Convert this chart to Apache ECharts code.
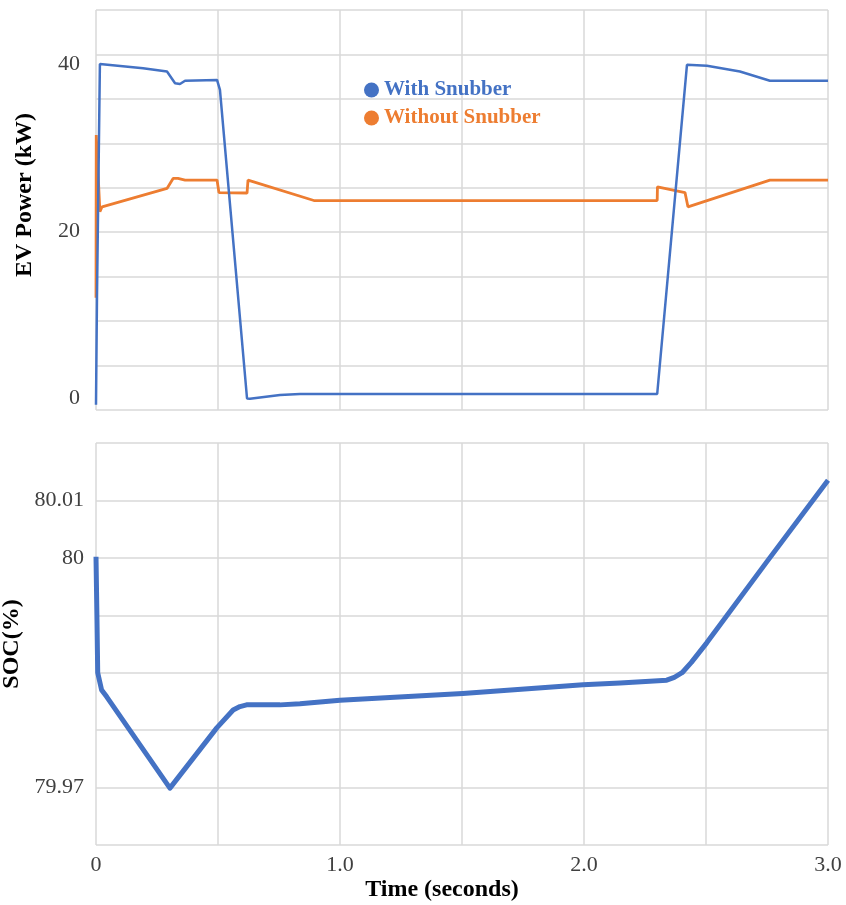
<!DOCTYPE html>
<html>
<head>
<meta charset="utf-8">
<script src="https://cdn.jsdelivr.net/npm/echarts@6/dist/echarts.min.js"></script>
<style>
html,body{margin:0;padding:0;background:#fff;}
#chart{width:846px;height:905px;}
</style>
</head>
<body>
<div id="chart"></div>
<script>
// ---- data ----
var seriesNames = ['With Snubber', 'Without Snubber'];

var tWith = [0, 0.004, 0.016, 0.193, 0.291, 0.324, 0.344, 0.365, 0.496, 0.508, 0.619, 0.631, 0.754, 0.836, 1.5, 2.3, 2.303, 2.422, 2.504, 2.639, 2.762, 3.0];
var pWith = [-0.8, 12, 40.0, 39.5, 39.1, 37.7, 37.6, 38.0, 38.1, 36.9, -0.06, -0.1, 0.36, 0.48, 0.48, 0.48, 0.36, 39.9, 39.8, 39.1, 38.0, 38.0];

var tWithout = [0, 0.001, 0.016, 0.025, 0.291, 0.316, 0.336, 0.365, 0.496, 0.504, 0.619, 0.623, 0.893, 1.5, 2.3, 2.301, 2.414, 2.426, 2.762, 3.0];
var pWithout = [12.0, 31.5, 22.3, 22.9, 25.1, 26.3, 26.3, 26.1, 26.1, 24.6, 24.55, 26.1, 23.65, 23.65, 23.65, 25.3, 24.6, 22.9, 26.1, 26.1];

var tSoc = [0, 0.004, 0.007, 0.023, 0.044, 0.303, 0.495, 0.562, 0.59, 0.617, 0.754, 0.836, 1.0, 1.503, 1.996, 2.148, 2.339, 2.37, 2.402, 2.44, 2.503, 2.749, 3.0];
var soc = [80.0002, 79.9892, 79.9800, 79.9770, 79.9758, 79.9599, 79.9704, 79.9735, 79.9741, 79.9744, 79.9744, 79.9746, 79.9752, 79.9764, 79.9779, 79.9782, 79.9787, 79.9792, 79.9800, 79.9818, 79.9852, 79.9993, 80.0135];

var powerTicks = [0, 20, 40];
var timeTicks = [0, 1, 2, 3];
var socTickLabels = ['', '79.97', '', '', '', '80', '80.01', ''];

// ---- chart ----
var BLUE = '#4472C4', ORANGE = '#ED7D31', GRID = '#d9d9d9', TXT = '#404040';
var FONT = '"Liberation Serif", "Times New Roman", serif';

function zip(a, b) { return a.map(function (v, i) { return [v, b[i]]; }); }

var chart = echarts.init(document.getElementById('chart'), null, {renderer: 'canvas'});
var splitStyle = {show: true, lineStyle: {color: GRID, width: 1.5}};

chart.setOption({
  animation: false,
  backgroundColor: '#fff',
  grid: [
    {left: 96, top: 10, width: 732, height: 400, containLabel: false, outerBoundsMode: 'none'},
    {left: 96, top: 443, width: 732, height: 402, containLabel: false, outerBoundsMode: 'none'}
  ],
  legend: {
    orient: 'vertical', left: 359, top: 74, icon: 'circle',
    itemWidth: 15, itemHeight: 15, itemGap: 6,
    textStyle: {fontFamily: FONT, fontWeight: 'bold', fontSize: 21, lineHeight: 22},
    data: [
      {name: seriesNames[0], textStyle: {color: BLUE}},
      {name: seriesNames[1], textStyle: {color: ORANGE}}
    ]
  },
  xAxis: [
    {gridIndex: 0, type: 'value', min: 0, max: 3, interval: 0.5,
      axisLine: {show: false}, axisTick: {show: false}, axisLabel: {show: false},
      splitLine: splitStyle},
    {gridIndex: 1, type: 'value', min: 0, max: 3, interval: 0.5,
      axisLine: {show: false}, axisTick: {show: false},
      axisLabel: {customValues: timeTicks, fontFamily: FONT, fontSize: 22, color: TXT, margin: 9,
        formatter: function (v) { return v === 0 ? '0' : v.toFixed(1); }},
      splitLine: splitStyle,
      name: 'Time (seconds)', nameLocation: 'middle', nameGap: 33,
      nameTextStyle: {fontFamily: FONT, fontWeight: 'bold', fontSize: 24, color: '#000', padding: [0, 40, 0, 0]}}
  ],
  yAxis: [
    {gridIndex: 0, type: 'value', min: -1.437, max: 46.47, position: 'left',
      axisLine: {show: false}, axisTick: {show: false}, splitLine: {show: false},
      axisLabel: {customValues: powerTicks, fontFamily: FONT, fontSize: 22, color: TXT, margin: 16},
      name: 'EV Power (kW)', nameLocation: 'middle', nameGap: 59, nameRotate: 90,
      nameTextStyle: {fontFamily: FONT, fontWeight: 'bold', fontSize: 24, color: '#000', padding: [0, 0, 0, 30]}},
    {gridIndex: 0, type: 'value', min: 0, max: 9, interval: 1, position: 'right',
      axisLine: {show: false}, axisTick: {show: false}, axisLabel: {show: false},
      splitLine: splitStyle},
    {gridIndex: 1, type: 'category', data: socTickLabels, boundaryGap: false, position: 'left',
      axisLine: {show: false}, axisTick: {show: false},
      axisLabel: {interval: 0, fontFamily: FONT, fontSize: 22, color: TXT, margin: 12},
      splitLine: {show: true, interval: 0, lineStyle: {color: GRID, width: 1.5}},
      name: 'SOC(%)', nameLocation: 'middle', nameGap: 59, nameRotate: 90,
      nameTextStyle: {fontFamily: FONT, fontWeight: 'bold', fontSize: 24, color: '#000'}},
    {gridIndex: 1, type: 'value', min: 79.95, max: 80.02, position: 'right', show: false,
      splitLine: {show: false}}
  ],
  series: [
    {name: seriesNames[0], type: 'line', xAxisIndex: 0, yAxisIndex: 0, data: zip(tWith, pWith),
      showSymbol: false, z: 4, color: BLUE, lineStyle: {color: BLUE, width: 2.5}},
    {name: seriesNames[1], type: 'line', xAxisIndex: 0, yAxisIndex: 0, data: zip(tWithout, pWithout),
      showSymbol: false, z: 3, color: ORANGE, lineStyle: {color: ORANGE, width: 2.8}},
    {name: 'SOC', type: 'line', xAxisIndex: 1, yAxisIndex: 3, data: zip(tSoc, soc),
      showSymbol: false, z: 3, color: BLUE, lineStyle: {color: BLUE, width: 5, join: 'round'}}
  ]
});
</script>
</body>
</html>
